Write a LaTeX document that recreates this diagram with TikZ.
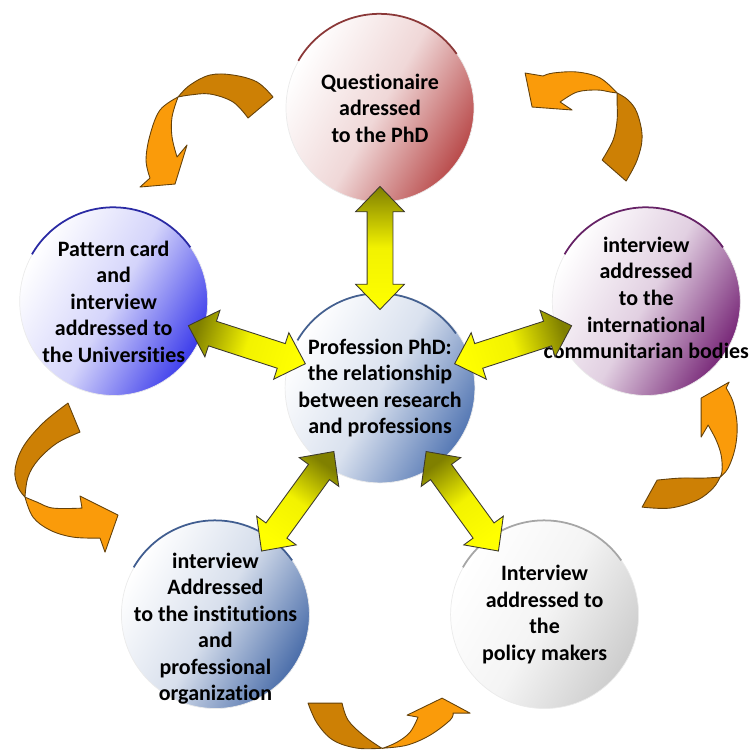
\documentclass[tikz,border=0pt]{standalone}
\usepackage{fontspec}
\newfontfamily\calfont{Carlito}[Ligatures=NoCommon]
\usetikzlibrary{calc,shapes.arrows}

\definecolor{qstc}{RGB}{185,75,75}
\definecolor{unic}{RGB}{60,60,235}
\definecolor{intlc}{RGB}{120,40,120}
\definecolor{hubc}{RGB}{85,120,180}
\definecolor{instc}{RGB}{75,110,170}
\definecolor{polc}{RGB}{205,205,205}
\definecolor{orglight}{RGB}{250,155,10}
\definecolor{orgdark}{RGB}{205,128,5}
\definecolor{orgline}{RGB}{100,65,10}

\begin{document}
\begin{tikzpicture}[
  topic/.style={circle,minimum size=3.76cm,inner sep=0pt,align=center,draw=black!8,
    font=\calfont\bfseries\fontsize{12.5}{15.1}\selectfont},
  tint/.style={top color=white,bottom color=#1,middle color=white!78!#1,shading angle=60},
  rim/.style={line width=1pt,draw=#1},
  link/.style={double arrow,draw=black!75!olive,line width=.5pt,inner xsep=0pt,inner ysep=.25cm,
    minimum height=2.46cm,minimum width=.96cm,double arrow head extend=.23cm,
    double arrow tip angle=88,
    top color=olive,bottom color=yellow,middle color=yellow!90!olive,shading angle=#1},
  ribbonback/.style={fill=orgdark,draw=orgline,line width=.5pt,line join=round},
  ribbonfront/.style={fill=orglight,draw=orgline,line width=.5pt,line join=round}
]
  \useasboundingbox (-7.6,-7.22) rectangle (7.44,7.76);

  % curved orange arrows, traced in pixel units
  \begin{scope}[x=.02cm,y=-.02cm,shift={(-7.6cm,7.76cm)}]
    % top left
    \filldraw[ribbonback] (248,118) -- (273,97)
      -- plot[smooth,tension=.6] coordinates {(273,97) (257,82) (233,75) (210,75) (190,85) (178,97)}
      -- plot[smooth,tension=.6] coordinates {(178,97) (190,95) (210,94) (233,102) (248,118)} -- cycle;
    \filldraw[ribbonfront] plot[smooth,tension=.6] coordinates {(178,97) (160,110) (150,135) (146,160) (150,178)}
      -- (140,187) -- (175,184) -- (187,145) -- (177,157)
      -- plot[smooth,tension=.6] coordinates {(177,157) (172,137) (172,117) (178,97)} -- cycle;
    % top right
    \filldraw[ribbonback] (602,160) -- (626,181)
      -- plot[smooth,tension=.6] coordinates {(626,181) (637,160) (642,137) (637,113) (628,100) (617,93)}
      -- plot[smooth,tension=.6] coordinates {(617,93) (617,103) (617,120) (613,140) (602,160)} -- cycle;
    \filldraw[ribbonfront] plot[smooth,tension=.6] coordinates {(617,93) (600,78) (577,72) (553,73) (543,76)}
      -- (525,73) -- (532,107) -- (572,110) -- (560,102)
      -- plot[smooth,tension=.6] coordinates {(560,102) (577,92) (597,90) (610,92) (617,93)} -- cycle;
    % right low
    \filldraw[ribbonback] (642,507) -- (657,480)
      -- plot[smooth,tension=.6] coordinates {(657,480) (680,478) (703,478) (720,477)}
      -- plot[smooth,tension=.6] coordinates {(720,477) (713,488) (697,500) (670,508) (642,507)} -- cycle;
    \filldraw[ribbonfront] plot[smooth,tension=.6] coordinates {(720,477) (728,468) (735,448) (737,425) (733,402) (726,388)}
      -- (729,382) -- (701,398) -- (701,437) -- (708,425)
      -- plot[smooth,tension=.6] coordinates {(708,425) (716,440) (721,455) (722,470) (720,477)} -- cycle;
    % left low
    \filldraw[ribbonback] (68,403) -- (80,432)
      -- plot[smooth,tension=.6] coordinates {(80,432) (57,443) (38,460) (28,477) (25,497)}
      -- plot[smooth,tension=.6] coordinates {(25,497) (18,487) (15,470) (23,447) (43,423) (68,403)} -- cycle;
    \filldraw[ribbonfront] plot[smooth,tension=.6] coordinates {(25,497) (33,517) (50,530) (73,537) (100,538)}
      -- (105,552) -- (118,515) -- (80,496) -- (82,508)
      -- plot[smooth,tension=.6] coordinates {(82,508) (53,508) (37,502) (25,497)} -- cycle;
    % bottom
    \filldraw[ribbonback] (308,703) -- (342,703)
      -- plot[smooth,tension=.6] coordinates {(342,703) (348,720) (363,735) (380,747) (383,748)}
      -- plot[smooth,tension=.6] coordinates {(383,748) (357,748) (333,740) (317,723) (308,703)} -- cycle;
    \filldraw[ribbonfront] plot[smooth,tension=.6] coordinates {(383,748) (407,745) (430,735) (450,720) (453,713)}
      -- (470,713) -- (442,698) -- (407,715) -- (418,717)
      -- plot[smooth,tension=.6] coordinates {(418,717) (410,732) (397,742) (383,748)} -- cycle;
  \end{scope}

  \node[topic,tint=hubc] (hub) at (0,0) {Profession PhD:\\the relationship\\between research\\and professions};
  \node[topic,tint=qstc] (qst) at (90:5.6) {Questionaire\\adressed\\to the PhD};
  \node[topic,tint=unic] (uni) at (162:5.6) {Pattern card\\and\\interview\\addressed to\\the Universities};
  \node[topic,tint=intlc] (intl) at (18:5.6) {\raisebox{-.08cm}[0pt][0pt]{\makebox[0pt]{\begin{tabular}{@{}c@{}}interview\\addressed\\to the\\international\\communitarian bodies\end{tabular}}}};
  \node[topic,tint=instc] (inst) at (234:5.6) {\raisebox{-.4cm}[0pt][0pt]{\begin{tabular}{@{}c@{}}interview\\Addressed\\to the institutions\\and\\professional\\organization\end{tabular}}};
  \node[topic,tint=polc] (pol) at (306:5.6) {Interview\\addressed to\\the\\policy makers};

  \foreach \n/\c in {hub/hubc!80!black,qst/qstc!75!black,uni/unic!70!black,
                     intl/intlc!85!black,inst/instc!85!black,pol/black!35}
    \draw[rim=\c] (\n.150) arc[start angle=150,end angle=35,radius=1.88cm];

  \node[link=0,rotate=90]    (aq) at ($(hub)!.5!(qst)$) {};
  \node[link=72,rotate=162]  (au) at ($(hub)!.5!(uni)$) {};
  \node[link=-72,rotate=18]  (ai) at ($(hub)!.5!(intl)$) {};
  \node[link=-36,rotate=234] (an) at ($(hub)!.5!(inst)$) {};
  \node[link=36,rotate=306]  (ap) at ($(hub)!.5!(pol)$) {};
\end{tikzpicture}
\end{document}
